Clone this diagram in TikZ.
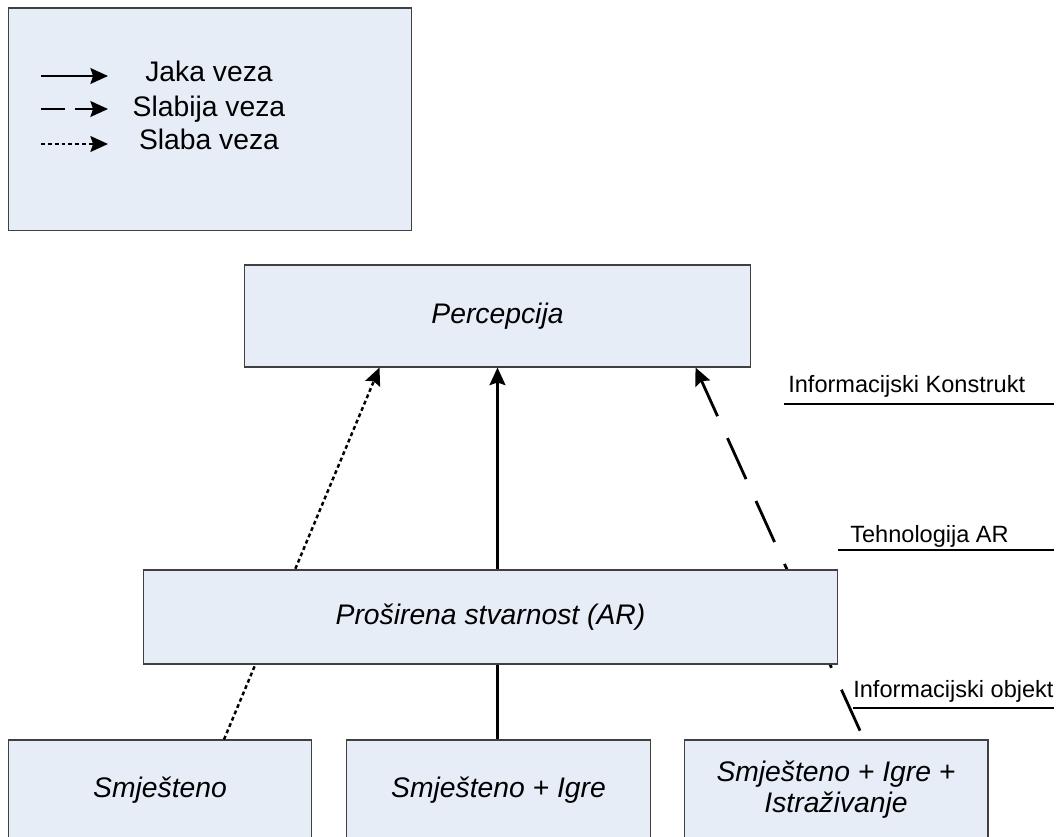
\documentclass[tikz,border=0pt]{standalone}
\usepackage{fontspec}
\setmainfont{Liberation Sans}
\usetikzlibrary{arrows.meta,calc}
\definecolor{boxblue}{RGB}{230,237,247}

\begin{document}
\begin{tikzpicture}[x=0.02cm,y=-0.02cm,
  box/.style={draw=black!75,line width=0.6pt,fill=boxblue,inner sep=0pt,
    font=\fontsize{16.1}{17.6}\selectfont\itshape,align=center},
  keytext/.style={font=\fontsize{16.1}{17.6}\selectfont,anchor=base,inner sep=0pt},
  lbl/.style={font=\fontsize{13.4}{16}\selectfont,anchor=base west,inner sep=0pt},
  tip/.style={-{Stealth[length=10pt,width=9pt,inset=1.5pt]}},
  strong/.style={tip,line width=1.6pt},
  weaker/.style={tip,line width=1.6pt,dash pattern=on 25.6pt off 13.7pt,dash phase=33.8pt},
  weak/.style={tip,line width=1.4pt,dash pattern=on 2.2pt off 1.7pt},
  strongkey/.style={tip,line width=1.2pt},
  weakerkey/.style={tip,line width=1.2pt,dash pattern=on 13.7pt off 5.7pt},
  weakkey/.style={tip,line width=1.2pt,dash pattern=on 2.2pt off 1.7pt}]
\useasboundingbox (0,0) rectangle (1056,837);
\clip (0,0) rectangle (1056,837);

\node[box,minimum width=8.08cm,minimum height=4.46cm] (legend) at (210,119.5) {};
\foreach \sty/\y/\txt in {strongkey/76/Jaka veza,weakerkey/109/Slabija veza,weakkey/144/Slaba veza} {
\draw[\sty] (41,\y) -- (108,\y);
}
\node[keytext] (kjaka) at (209,82) {Jaka veza};
\node[keytext] (kslabija) at (209,117) {Slabija veza};
\node[keytext] (kslaba) at (209,150) {Slaba veza};

\node[box,minimum width=10.14cm,minimum height=2.04cm] (perc) at (497.5,316) {Percepcija};
\node[box,minimum width=6.08cm,minimum height=2cm] (smj) at (160,790) {Smješteno};
\node[box,minimum width=6.08cm,minimum height=2cm] (smjigre) at (498.5,790) {Smješteno + Igre};
\node[box,minimum width=6.08cm,minimum height=2cm] (smjistr) at (836,790) {Smješteno + Igre +\\Istraživanje};

\draw[strong] (perc.south |- smjigre.north) -- (perc.south);
\draw[weak] ($(smj.north)+(64,0)$) -- ($(perc.south)+(-118,0)$);
\draw[weaker] ($(smjistr.north)+(28,0)$) -- ($(perc.south)+(198,0)$);

\node[box,minimum width=13.9cm,minimum height=1.88cm] (ar) at (490.5,617) {Proširena stvarnost (AR)};

\node[lbl] (konstrukt) at (788,393) {Informacijski Konstrukt};
\draw[line width=0.6pt] (784,404) -- (1054,404);
\node[lbl] (tehn) at (850,543) {Tehnologija AR};
\draw[line width=0.6pt] (838,550) -- (1054,550);
\node[lbl] (objekt) at (853,698) {Informacijski objekt};
\draw[line width=0.6pt] (853,708) -- (1054,708);

\end{tikzpicture}
\end{document}
